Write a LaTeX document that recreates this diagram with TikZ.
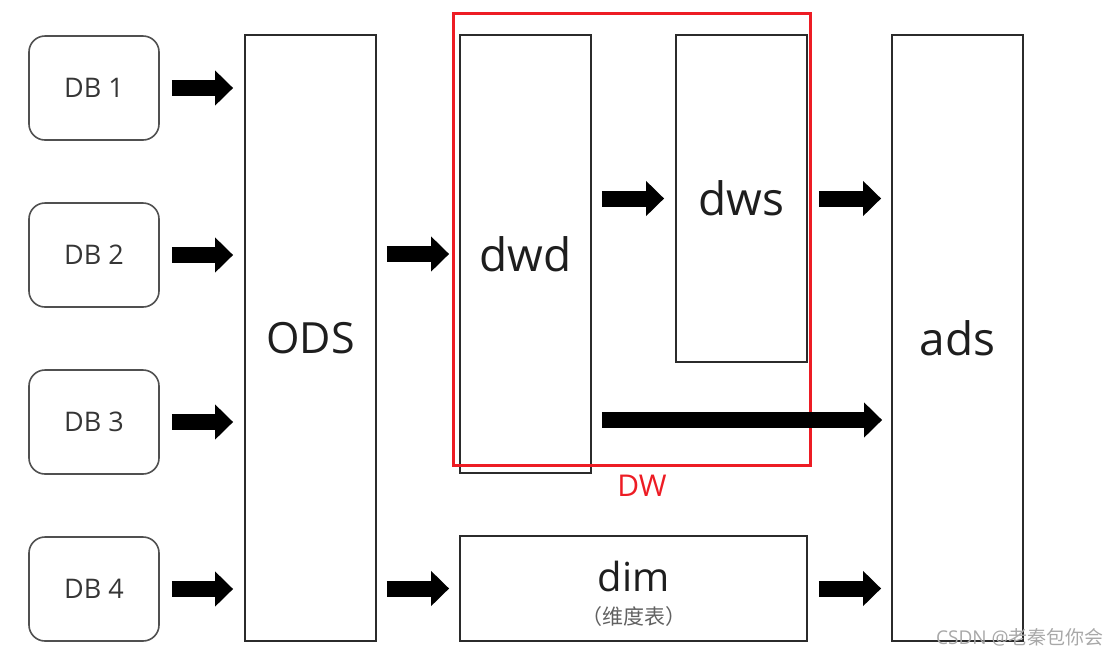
\documentclass[tikz,border=0pt]{standalone}
\usepackage{fontspec}
\setmainfont{Open Sans}
\newfontfamily\cjk{Noto Sans CJK SC}
\usetikzlibrary{arrows.meta}
\definecolor{txt}{HTML}{1E1E1E}
\definecolor{edge}{HTML}{2B2B2B}
\definecolor{dbedge}{HTML}{505050}
\definecolor{dwred}{HTML}{ED1C24}
\definecolor{wm}{HTML}{A8A8A8}
\tikzset{
  dbbox/.style={draw=dbedge, line width=1.6pt, rounded corners=16pt, minimum width=130pt, minimum height=104pt, inner sep=0pt, text=txt!90, font=\fontsize{27}{30}\selectfont},
  box/.style={draw=edge, line width=1.8pt, inner sep=0pt, text=txt, font=\fontsize{46}{50}\selectfont},
  blockarrow/.style={line width=16pt, -{Triangle[length=18pt,width=34pt]}, black},
}
\begin{document}
\begin{tikzpicture}[x=1pt,y=-1pt]
\useasboundingbox (0,0) rectangle (1118,657);
% sources
\node[dbbox] (db1) at (94,88) {DB 1};
\node[dbbox] (db2) at (94,255) {DB 2};
\node[dbbox] (db3) at (94,422) {DB 3};
\node[dbbox] (db4) at (94,589) {DB 4};
% layers
\node[box, font=\fontsize{43}{48}\selectfont, minimum width=131pt, minimum height=606pt] (ods) at (310.5,338) {ODS};
\node[box, minimum width=131pt, minimum height=438pt] (dwd) at (525.5,254) {dwd};
\node[box, minimum width=131pt, minimum height=327pt] (dws) at (741.5,198.5) {dws};
\node[box, minimum width=131pt, minimum height=606pt] (ads) at (957.5,338) {ads};
\node[box, minimum width=347pt, minimum height=105pt] (dim) at (633.5,588.5) {};
\node[text=txt, inner sep=0pt, font=\fontsize{40}{44}\selectfont] (dimt) at ([yshift=12pt]dim.center) {dim};
\node[text=txt!70, inner sep=0pt, font=\cjk\fontsize{21}{23}\selectfont] (dims) at ([yshift=-28pt]dim.center) {（维度表）};
% DW frame
\node[draw=dwred, line width=3pt, minimum width=357pt, minimum height=452pt, inner sep=0pt] (dw) at (631.5,239) {};
\node[text=dwred, inner sep=0pt, font=\fontsize{30}{32}\selectfont] (dwl) at (642,486) {DW};
% arrows
\foreach \d in {db1,db2,db3,db4}
  \draw[blockarrow] ([xshift=12pt]\d.east) -- ([xshift=-11pt]ods.west |- \d.east);
\draw[blockarrow] ([xshift=10pt]ods.east |- dwd.west) -- ([xshift=-10pt]dwd.west);
\draw[blockarrow] ([xshift=10pt]ods.east |- dim.west) -- ([xshift=-10pt]dim.west);
\draw[blockarrow] ([xshift=10pt]dwd.east |- dws.west) -- ([xshift=-11pt]dws.west);
\draw[blockarrow] ([xshift=11pt]dws.east) -- ([xshift=-10pt]ads.west |- dws.east);
\coordinate (lo) at ([yshift=-166pt]dwd.east);
\draw[blockarrow] ([xshift=10pt]lo) -- ([xshift=-9pt]ads.west |- lo);
\draw[blockarrow] ([xshift=11pt]dim.east) -- ([xshift=-10pt]ads.west |- dim.east);
% watermark
\node[text=wm, inner sep=0pt, anchor=east, font=\fontsize{19}{21}\selectfont] (wmk) at (1104,637) {CSDN @{\cjk 老秦包你会}};
\end{tikzpicture}
\end{document}
